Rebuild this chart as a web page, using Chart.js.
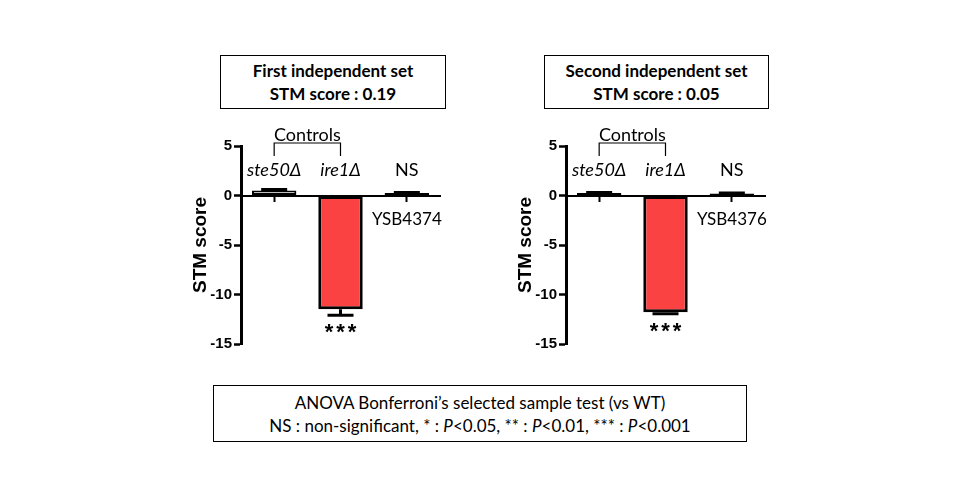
<!DOCTYPE html>
<html><head><meta charset="utf-8">
<script src="https://cdn.jsdelivr.net/npm/chart.js@4"></script>
<style>
html,body{margin:0;padding:0;background:#fff;width:960px;height:500px;overflow:hidden;}
.box{position:absolute;border:1.5px solid #000;box-sizing:border-box;background:#fff;font-family:Lato,"Open Sans",sans-serif;color:#000;text-align:center;}
.tbox{font-weight:bold;font-size:17px;line-height:23px;padding-top:3px;}
.bbox{font-size:17px;line-height:23px;padding-top:5px;}
.cv{position:absolute;}
</style></head>
<body>
<div class="box tbox" style="left:220px;top:55px;width:226px;height:54px;">First independent set<br>STM score : 0.19</div>
<div class="box tbox" style="left:544px;top:55px;width:225px;height:54px;">Second independent set<br>STM score : 0.05</div>
<div class="box bbox" style="left:213px;top:385px;width:534px;height:57px;">ANOVA Bonferroni’s selected sample test (vs WT)<br>NS : non-significant, * : <i>P</i>&lt;0.05, ** : <i>P</i>&lt;0.01, *** : <i>P</i>&lt;0.001</div>
<div class="cv" style="left:170px;top:115px;width:290px;height:255px;"><canvas id="c1"></canvas></div>
<div class="cv" style="left:495px;top:115px;width:290px;height:255px;"><canvas id="c2"></canvas></div>
<script>
const categories = ['ste50Δ', 'ire1Δ', 'NS'];
const italicCategory = [true, true, false];
const set1Values = [0.5, -11.5, 0.25];
const set1Errors = [0.1, 0.6, 0.05];
const set2Values = [0.25, -11.8, 0.2];
const set2Errors = [0.05, 0.15, 0.05];
const set1Fill = ['#ffffff', '#FA4242', '#000000'];
const set2Fill = ['#000000', '#FA4242', '#000000'];
const strainLabels = ['YSB4374', 'YSB4376'];
const significance = ['', '***', ''];
const controlsLabel = 'Controls';
const yMin = -15, yMax = 5, yStep = 5;
const yTitle = 'STM score';

const annot = {
  id: 'annot',
  afterDatasetsDraw(chart, args, opts) {
    const {ctx, scales: {x, y}, chartArea} = chart;
    const vals = opts.values, errs = opts.errors;
    ctx.save();
    // error bars
    ctx.strokeStyle = '#000'; ctx.lineWidth = 3;
    vals.forEach((v, i) => {
      const e = errs[i]; if (!e) return;
      const px = x.getPixelForValue(i);
      const y0 = y.getPixelForValue(v);
      const y1 = y.getPixelForValue(v < 0 ? v - e : v + e);
      ctx.beginPath(); ctx.moveTo(px, y0); ctx.lineTo(px, y1);
      ctx.moveTo(px - 13, y1); ctx.lineTo(px + 13, y1); ctx.stroke();
    });
    // category labels above
    ctx.fillStyle = '#000'; ctx.textAlign = 'center'; ctx.textBaseline = 'middle';
    const top = chartArea.top;
    categories.forEach((c, i) => {
      ctx.font = (italicCategory[i] ? 'italic ' : '') + '18px Lato, "Open Sans", sans-serif';
      ctx.fillText(c, x.getPixelForValue(i), top + 24);
    });
    // controls bracket
    const xa = x.getPixelForValue(0), xb = x.getPixelForValue(1);
    ctx.lineWidth = 1.2;
    ctx.beginPath();
    ctx.moveTo(xa, top + 10); ctx.lineTo(xa, top - 3); ctx.lineTo(xb, top - 3); ctx.lineTo(xb, top + 10);
    ctx.stroke();
    ctx.font = '18px Lato, "Open Sans", sans-serif';
    ctx.fillText(controlsLabel, (xa + xb) / 2, top - 11);
    // strain label
    ctx.font = '17px Lato, "Open Sans", sans-serif';
    ctx.fillText(opts.strain, x.getPixelForValue(2), y.getPixelForValue(0) + 24);
    // significance
    ctx.font = 'bold 22px "Liberation Sans", Arial, sans-serif';
    try { ctx.letterSpacing = '3px'; } catch (e) {}
    significance.forEach((s, i) => {
      if (!s) return;
      const v = vals[i], e = errs[i];
      const yb = y.getPixelForValue(v < 0 ? v - e : v);
      ctx.fillText(s, x.getPixelForValue(i) + 1.5, yb + 18);
    });
    ctx.restore();
  }
};

function makeChart(id, values, errors, fills, strain) {
  return new Chart(document.getElementById(id), {
    type: 'bar',
    data: {
      labels: categories,
      datasets: [{
        data: values,
        backgroundColor: fills,
        borderColor: '#000',
        borderWidth: [2, 3, 2],
        borderSkipped: false,
        categoryPercentage: 1,
        barPercentage: 0.67
      }]
    },
    options: {
      responsive: true, maintainAspectRatio: false, animation: false,
      devicePixelRatio: 1,
      layout: {padding: {top: 31, right: 20, bottom: 26, left: 0}},
      plugins: {legend: {display: false}, tooltip: {enabled: false}, annot: {values, errors, strain}},
      scales: {
        x: {
          type: 'category', position: {y: 0}, offset: true,
          grid: {display: true, drawOnChartArea: false, drawTicks: true, tickLength: 5, tickWidth: 2, tickColor: '#000', offset: false},
          border: {display: true, color: '#000', width: 2},
          ticks: {display: false}
        },
        y: {
          min: yMin, max: yMax,
          afterFit(s) { s.width = 71; },
          ticks: {stepSize: yStep, color: '#000', padding: 2, font: {family: '"Liberation Sans", Arial, sans-serif', size: 15, weight: 'bold'}},
          grid: {drawOnChartArea: false, drawTicks: true, tickLength: 7, tickWidth: 2.5, tickColor: '#000'},
          border: {display: true, color: '#000', width: 3},
          title: {display: true, text: yTitle, color: '#000', padding: {top: 19, bottom: 0}, font: {family: '"Liberation Sans", Arial, sans-serif', size: 19, weight: 'bold'}}
        }
      }
    },
    plugins: [annot]
  });
}
makeChart('c1', set1Values, set1Errors, set1Fill, strainLabels[0]);
makeChart('c2', set2Values, set2Errors, set2Fill, strainLabels[1]);
</script>
</body></html>
